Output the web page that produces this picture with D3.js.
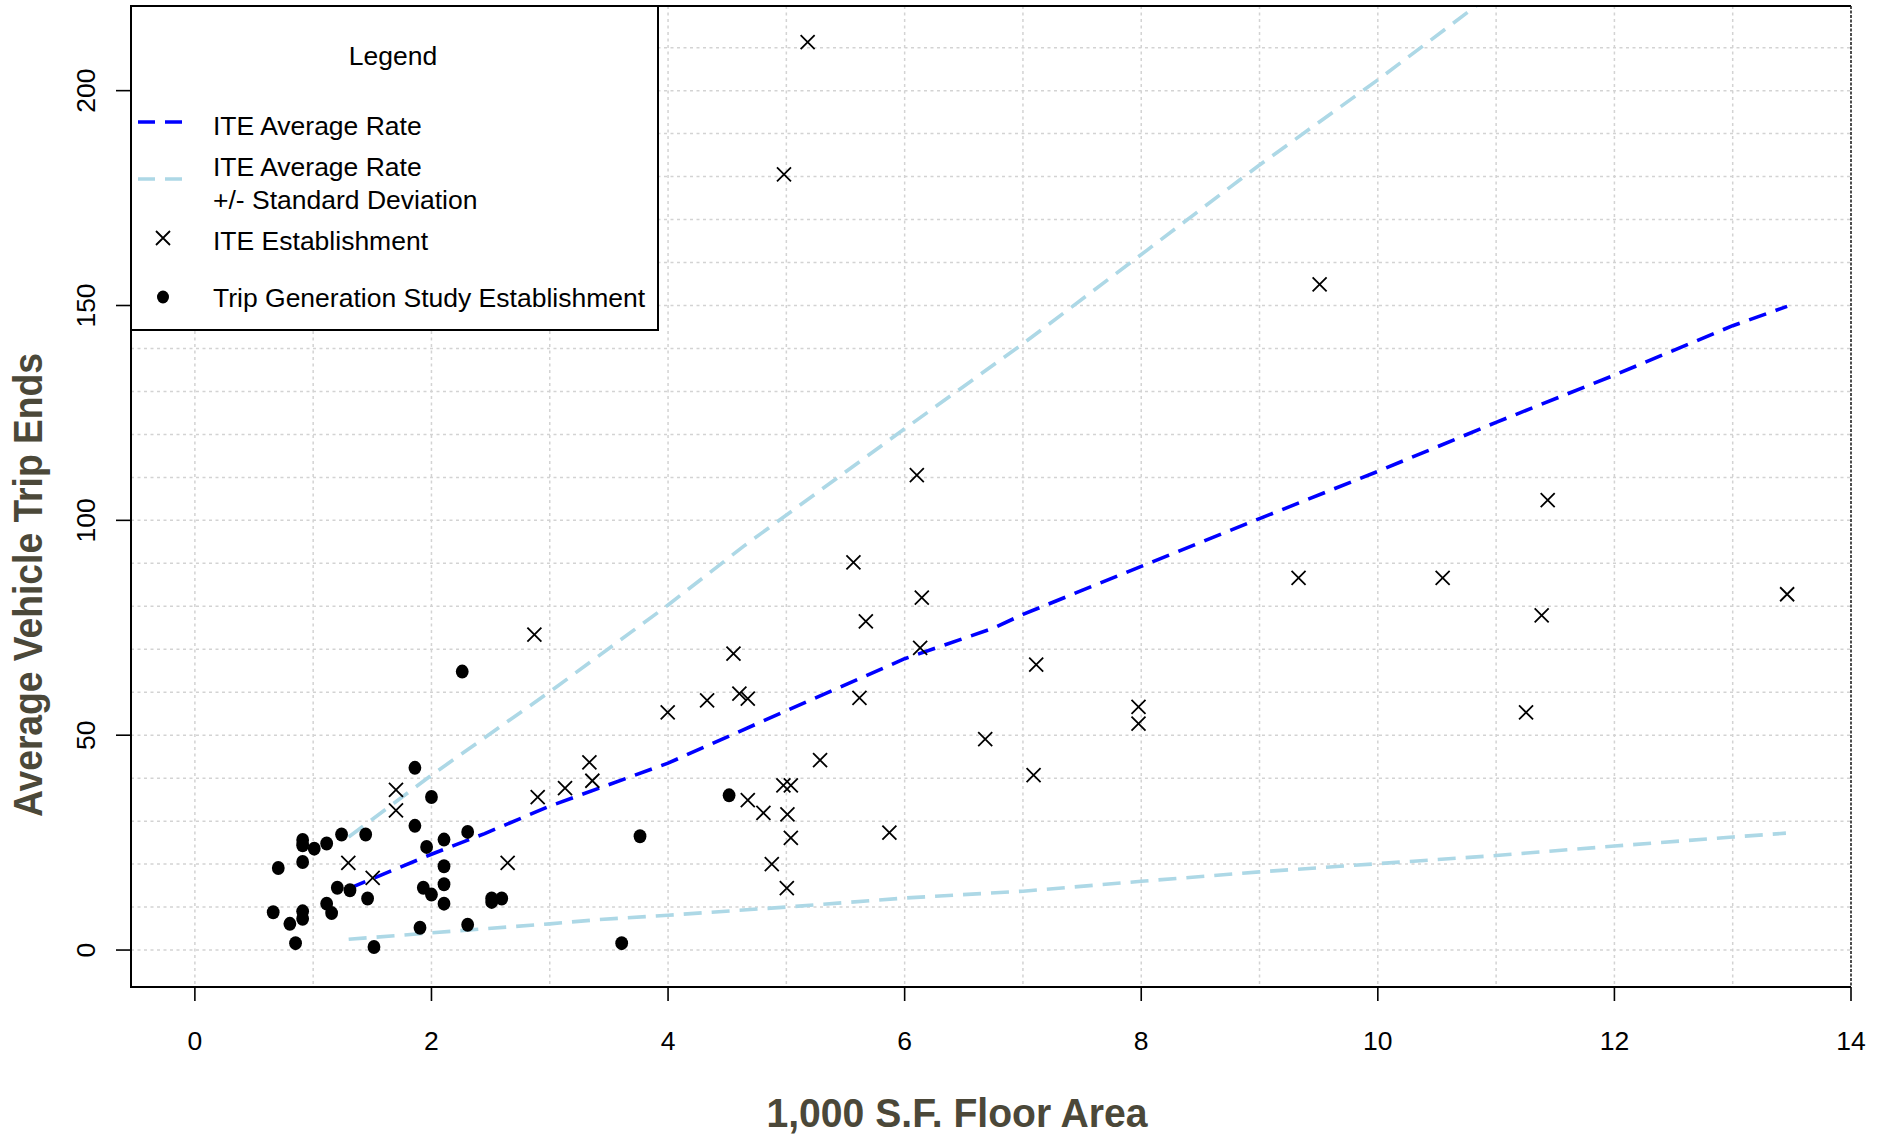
<!DOCTYPE html>
<html>
<head>
<meta charset="utf-8">
<script src="https://cdn.jsdelivr.net/npm/d3@7"></script>
<style>
  html, body { margin: 0; padding: 0; background: #ffffff; }
  svg { display: block; }
  text { font-family: "Liberation Sans", Arial, sans-serif; }
</style>
</head>
<body>
<script>
// ---------- Data ----------
const iteX = [1.297, 1.503, 1.700, 1.700, 2.644, 2.870, 2.898, 3.129, 3.335, 3.360,
              3.997, 4.330, 4.553, 4.603, 4.674, 4.674, 4.806, 4.975, 5.038, 5.009,
              5.038, 4.877, 5.004, 5.285, 5.567, 5.672, 6.145, 6.131, 5.618, 5.871,
              6.681, 6.103, 7.112, 7.090, 7.977, 7.977, 9.330, 9.508, 10.548, 11.385,
              11.436, 11.253, 13.460, 5.180, 4.980];
const iteY = [20.3, 16.8, 37.3, 32.5, 20.3, 73.4, 35.6, 37.7, 43.7, 39.4,
              55.3, 58.1, 69.0, 59.7, 58.5, 34.9, 31.9, 38.3, 38.3, 31.6,
              26.1, 20.0, 14.4, 44.2, 90.2, 76.5, 82.0, 70.3, 58.7, 27.3,
              49.1, 110.5, 66.4, 40.7, 56.6, 52.7, 86.6, 154.9, 86.6, 77.9,
              104.7, 55.3, 82.8, 211.3, 180.5];

const studyX = [1.860, 2.000, 1.860, 1.240, 1.444, 1.114, 0.911, 0.911, 1.009, 0.911,
                0.705, 1.959, 2.106, 2.306, 2.106, 2.106, 2.106, 1.931, 2.000, 1.204,
                1.311, 1.460, 1.114, 1.156, 0.662, 0.911, 0.911, 0.803, 0.851, 1.514,
                1.903, 2.306, 2.509, 2.509, 2.594, 3.608, 3.763, 4.516, 2.260];
const studyY = [42.4, 35.6, 28.9, 26.9, 26.9, 24.8, 25.6, 24.4, 23.6, 20.5,
                19.1, 24.0, 25.7, 27.5, 19.5, 15.3, 10.8, 14.5, 12.9, 14.5,
                13.9, 12.0, 10.8, 8.6, 8.8, 9.0, 7.3, 6.1, 1.6, 0.7,
                5.2, 5.9, 12.0, 11.2, 12.0, 1.6, 26.5, 36.0, 64.8];

const avgX = [1.30, 2.00, 2.45, 3.00, 4.00, 5.00, 6.00, 6.74, 7.00, 8.00, 9.00, 10.00, 11.00, 12.00, 13.00, 13.46];
const avgY = [14.3, 22.3, 27.1, 33.5, 43.5, 55.7, 67.8, 74.8, 78.1, 89.3, 100.4, 111.4, 122.8, 133.8, 145.3, 149.8];

const upperX = [1.30, 2.00, 3.00, 4.00, 4.64, 6.00, 7.00, 8.05, 8.98, 10.00, 10.84];
const upperY = [26.3, 40.7, 60.1, 80.3, 94.0, 121.3, 141.1, 162.9, 182.3, 202.5, 219.9];

const lowerX = [1.30, 2.00, 3.00, 3.42, 4.00, 5.00, 6.00, 7.00, 8.00, 9.00, 10.00, 11.00, 12.00, 13.00, 13.45];
const lowerY = [2.5, 4.0, 6.1, 7.1, 8.1, 10.0, 12.1, 13.7, 16.0, 18.2, 20.1, 22.0, 24.2, 26.3, 27.2];

const xTicks = [0, 2, 4, 6, 8, 10, 12, 14];
const yTicks = [0, 50, 100, 150, 200];
const xGrid = [0, 1, 2, 3, 4, 5, 6, 7, 8, 9, 10, 11, 12, 13];
const yGrid = [0, 10, 20, 30, 40, 50, 60, 70, 80, 90, 100, 110, 120, 130, 140, 150, 160, 170, 180, 190, 200, 210];

const xTitle = "1,000 S.F. Floor Area";
const yTitle = "Average Vehicle Trip Ends";
const legendTitle = "Legend";
const legendLabels = ["ITE Average Rate", "ITE Average Rate", "+/- Standard Deviation", "ITE Establishment", "Trip Generation Study Establishment"];

// ---------- Layout ----------
const W = 1888, H = 1136;
const L = 131, R = 1851, T = 6, B = 987;
const blue = "#0000ff", lightblue = "#add8e6", titleColor = "#4b4839";

const svg = d3.select("body").append("svg").attr("width", W).attr("height", H);
const x = d3.scaleLinear().domain([-0.54, 14]).range([L, R]);
const y = d3.scaleLinear().domain([-8.6, 219.7]).range([B, T]);

svg.append("defs").append("clipPath").attr("id", "plotclip")
  .append("rect").attr("x", L).attr("y", T).attr("width", R - L).attr("height", B - T);

// grid
const grid = svg.append("g").attr("stroke", "#d3d3d3").attr("stroke-width", 1.5).attr("stroke-dasharray", "3,3.5");
grid.selectAll("line.v").data(xGrid).join("line").attr("class", "v")
  .attr("x1", d => x(d)).attr("x2", d => x(d)).attr("y1", T).attr("y2", B);
grid.selectAll("line.h").data(yGrid).join("line").attr("class", "h")
  .attr("x1", L).attr("x2", R).attr("y1", d => y(d)).attr("y2", d => y(d));

// lines
const plot = svg.append("g").attr("clip-path", "url(#plotclip)");
const lineGen = d3.line().x(d => x(d[0])).y(d => y(d[1]));
function drawLine(xs, ys, color) {
  plot.append("path").datum(xs.map((v, i) => [v, ys[i]]))
    .attr("d", lineGen).attr("fill", "none").attr("stroke", color)
    .attr("stroke-width", 3.6).attr("stroke-dasharray", "18,10");
}
drawLine(upperX, upperY, lightblue);
drawLine(lowerX, lowerY, lightblue);
drawLine(avgX, avgY, blue);

// points
const h = 7;
plot.selectAll("path.ite").data(iteX.map((v, i) => [v, iteY[i]])).join("path").attr("class", "ite")
  .attr("d", d => `M${x(d[0]) - h},${y(d[1]) - h}L${x(d[0]) + h},${y(d[1]) + h}M${x(d[0]) - h},${y(d[1]) + h}L${x(d[0]) + h},${y(d[1]) - h}`)
  .attr("stroke", "#000").attr("stroke-width", 1.8).attr("fill", "none");
plot.selectAll("ellipse.study").data(studyX.map((v, i) => [v, studyY[i]])).join("ellipse").attr("class", "study")
  .attr("cx", d => x(d[0])).attr("cy", d => y(d[1])).attr("rx", 6.4).attr("ry", 7).attr("fill", "#000");

// axes ticks
const ax = svg.append("g").attr("stroke", "#000").attr("stroke-width", 1.6);
ax.selectAll("line.xt").data(xTicks).join("line").attr("class", "xt")
  .attr("x1", d => x(d)).attr("x2", d => x(d)).attr("y1", B).attr("y2", B + 14);
ax.selectAll("line.yt").data(yTicks).join("line").attr("class", "yt")
  .attr("x1", L - 15).attr("x2", L).attr("y1", d => y(d)).attr("y2", d => y(d));

svg.selectAll("text.xl").data(xTicks).join("text").attr("class", "xl")
  .attr("x", d => x(d)).attr("y", 1050).attr("text-anchor", "middle")
  .attr("font-size", 26.5).attr("fill", "#000").text(d => d);
svg.selectAll("text.yl").data(yTicks).join("text").attr("class", "yl")
  .attr("transform", d => `translate(94.5,${y(d)}) rotate(-90)`).attr("text-anchor", "middle")
  .attr("font-size", 26.5).attr("fill", "#000").text(d => d);

// frame
svg.append("path").attr("d", `M${R},${T}H${L}V${B}H${R}`).attr("fill", "none").attr("stroke", "#000").attr("stroke-width", 2);
svg.append("line").attr("x1", R).attr("x2", R).attr("y1", T).attr("y2", B)
  .attr("stroke", "#222").attr("stroke-width", 1.6).attr("stroke-dasharray", "3,1.5");

// legend
const lg = svg.append("g");
lg.append("rect").attr("x", L).attr("y", T).attr("width", 658 - L).attr("height", 330 - T)
  .attr("fill", "#fff").attr("stroke", "#000").attr("stroke-width", 2);
lg.append("text").attr("x", 393).attr("y", 65).attr("text-anchor", "middle").attr("font-size", 26.5).text(legendTitle);
const lgBase = [135, 176, 209, 250, 307];
legendLabels.forEach((t, i) => {
  lg.append("text").attr("x", 213).attr("y", lgBase[i]).attr("font-size", 26.5).attr("fill", "#000").text(t);
});
lg.append("line").attr("x1", 138).attr("x2", 182).attr("y1", 122).attr("y2", 122)
  .attr("stroke", blue).attr("stroke-width", 3.6).attr("stroke-dasharray", "17,10");
lg.append("line").attr("x1", 138).attr("x2", 182).attr("y1", 179).attr("y2", 179)
  .attr("stroke", lightblue).attr("stroke-width", 3.6).attr("stroke-dasharray", "17,10");
lg.append("path").attr("d", `M${163 - h},${238 - h}L${163 + h},${238 + h}M${163 - h},${238 + h}L${163 + h},${238 - h}`)
  .attr("stroke", "#000").attr("stroke-width", 1.8);
lg.append("ellipse").attr("cx", 163).attr("cy", 297).attr("rx", 6).attr("ry", 6.5).attr("fill", "#000");

// titles
svg.append("text").attr("x", 957).attr("y", 1127).attr("text-anchor", "middle")
  .attr("font-size", 41).attr("font-weight", "bold").attr("fill", titleColor)
  .attr("textLength", 381).attr("lengthAdjust", "spacingAndGlyphs").text(xTitle);
svg.append("text").attr("transform", "translate(42,585) rotate(-90)").attr("text-anchor", "middle")
  .attr("font-size", 41).attr("font-weight", "bold").attr("fill", titleColor)
  .attr("textLength", 464).attr("lengthAdjust", "spacingAndGlyphs").text(yTitle);
</script>
</body>
</html>
